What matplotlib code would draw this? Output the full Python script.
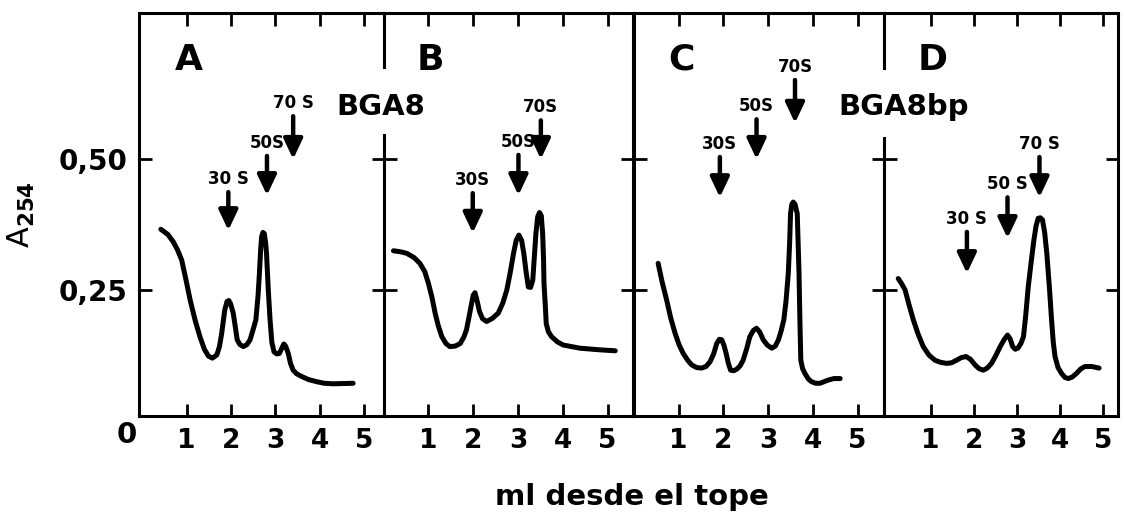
import matplotlib
matplotlib.use("Agg")
import matplotlib.pyplot as plt
from matplotlib.lines import Line2D

# ---- data (x in ml from top, y in A254) ----
a_x = [0.42, 0.58, 0.70, 0.80, 0.89, 0.98, 1.08, 1.19, 1.30, 1.40, 1.49, 1.58, 1.68, 1.74, 1.79,
       1.86, 1.91, 1.95, 1.99, 2.05, 2.10, 2.14, 2.20, 2.28, 2.36, 2.43, 2.51, 2.56, 2.61, 2.64,
       2.67, 2.69, 2.72, 2.75, 2.78, 2.80, 2.84, 2.88, 2.92, 2.97, 3.03, 3.09, 3.15, 3.19, 3.23,
       3.29, 3.34, 3.40, 3.48, 3.59, 3.75, 3.93, 4.10, 4.30, 4.75]
a_y = [0.366, 0.356, 0.342, 0.326, 0.307, 0.272, 0.231, 0.193, 0.161, 0.137, 0.124, 0.120, 0.126,
       0.142, 0.167, 0.212, 0.228, 0.230, 0.224, 0.206, 0.178, 0.155, 0.146, 0.142, 0.146, 0.155,
       0.178, 0.193, 0.240, 0.282, 0.330, 0.352, 0.360, 0.358, 0.340, 0.320, 0.250, 0.193, 0.150,
       0.132, 0.128, 0.129, 0.140, 0.147, 0.143, 0.129, 0.110, 0.097, 0.090, 0.085, 0.079, 0.075,
       0.072, 0.071, 0.072]

b_x = [0.22, 0.38, 0.52, 0.68, 0.81, 0.92, 1.00, 1.08, 1.15, 1.22, 1.30, 1.39, 1.48, 1.60, 1.71,
       1.79, 1.85, 1.91, 1.95, 2.00, 2.04, 2.08, 2.14, 2.21, 2.30, 2.43, 2.56, 2.66, 2.75, 2.83,
       2.90, 2.96, 3.02, 3.08, 3.13, 3.18, 3.23, 3.28, 3.33, 3.37, 3.40, 3.44, 3.48, 3.52, 3.55,
       3.57, 3.58, 3.61, 3.63, 3.68, 3.75, 3.88, 4.01, 4.38, 4.80, 5.17]
b_y = [0.325, 0.323, 0.320, 0.312, 0.301, 0.285, 0.263, 0.236, 0.206, 0.182, 0.161, 0.148, 0.142,
       0.143, 0.148, 0.160, 0.174, 0.200, 0.218, 0.240, 0.245, 0.232, 0.209, 0.195, 0.190, 0.196,
       0.206, 0.225, 0.250, 0.285, 0.320, 0.345, 0.355, 0.345, 0.320, 0.285, 0.256, 0.255, 0.269,
       0.320, 0.358, 0.390, 0.398, 0.392, 0.358, 0.310, 0.263, 0.220, 0.186, 0.170, 0.161, 0.151,
       0.145, 0.139, 0.136, 0.134]

c_x = [0.54, 0.63, 0.73, 0.82, 0.92, 1.01, 1.10, 1.20, 1.29, 1.40, 1.51, 1.61, 1.70, 1.78, 1.85,
       1.91, 1.96, 2.01, 2.06, 2.11, 2.16, 2.23, 2.30, 2.37, 2.44, 2.52, 2.59, 2.67, 2.74, 2.81,
       2.89, 2.98, 3.08, 3.16, 3.23, 3.29, 3.35, 3.40, 3.45, 3.48, 3.50, 3.53, 3.56, 3.60, 3.65,
       3.67, 3.69, 3.71, 3.73, 3.77, 3.82, 3.90, 3.97, 4.06, 4.16, 4.25, 4.34, 4.47, 4.61]
c_y = [0.301, 0.265, 0.231, 0.197, 0.167, 0.145, 0.129, 0.116, 0.107, 0.102, 0.101, 0.104, 0.113,
       0.128, 0.148, 0.156, 0.155, 0.145, 0.129, 0.110, 0.097, 0.096, 0.099, 0.105, 0.116, 0.138,
       0.161, 0.173, 0.177, 0.170, 0.155, 0.145, 0.139, 0.143, 0.155, 0.172, 0.193, 0.230, 0.282,
       0.340, 0.396, 0.414, 0.418, 0.414, 0.396, 0.340, 0.282, 0.190, 0.116, 0.100, 0.091, 0.080,
       0.075, 0.072, 0.072, 0.075, 0.078, 0.081, 0.081]

d_x = [0.25, 0.33, 0.41, 0.50, 0.60, 0.71, 0.83, 0.96, 1.10, 1.23, 1.37, 1.48, 1.60, 1.71, 1.82,
       1.92, 2.03, 2.12, 2.22, 2.31, 2.41, 2.51, 2.61, 2.70, 2.78, 2.84, 2.90, 2.96, 3.02, 3.09,
       3.15, 3.20, 3.26, 3.33, 3.39, 3.44, 3.49, 3.54, 3.59, 3.64, 3.69, 3.75, 3.80, 3.84, 3.88,
       3.95, 4.03, 4.11, 4.19, 4.28, 4.38, 4.47, 4.57, 4.73, 4.90]
d_y = [0.272, 0.262, 0.250, 0.222, 0.193, 0.166, 0.142, 0.126, 0.116, 0.112, 0.110, 0.111, 0.116,
       0.121, 0.123, 0.118, 0.107, 0.100, 0.097, 0.101, 0.110, 0.125, 0.142, 0.155, 0.164, 0.157,
       0.142, 0.137, 0.139, 0.148, 0.161, 0.200, 0.256, 0.305, 0.345, 0.372, 0.387, 0.388, 0.384,
       0.360, 0.320, 0.255, 0.193, 0.150, 0.123, 0.102, 0.091, 0.083, 0.081, 0.084, 0.091, 0.099,
       0.104, 0.104, 0.101]

# sedimentation markers: label, x, arrow tail y, arrow tip y
a_marks = [("30 S", 1.94, 0.437, 0.364), ("50S", 2.81, 0.506, 0.431), ("70 S", 3.40, 0.582, 0.500)]
b_marks = [("30S", 1.99, 0.435, 0.359), ("50S", 3.01, 0.508, 0.431), ("70S", 3.51, 0.574, 0.500)]
c_marks = [("30S", 1.92, 0.504, 0.427), ("50S", 2.74, 0.576, 0.500), ("70S", 3.60, 0.651, 0.569)]
d_marks = [("30 S", 1.84, 0.361, 0.282), ("50 S", 2.78, 0.427, 0.349), ("70 S", 3.52, 0.504, 0.427)]

panel_labels = ["A", "B", "C", "D"]
x_ticks = [1, 2, 3, 4, 5]
y_ticks = [0.25, 0.50]
y_tick_labels = ["0,25", "0,50"]

W, H = 1124, 515
# panel pixel extents and x limits (hand drawn axes -> slightly different scales)
panel_px = [(139, 384), (384, 633), (634, 884), (884, 1118)]
panel_xlim = [(-0.072, 5.446), (0.009, 5.567), (0.0, 5.59), (-0.079, 5.338)]
top_px, bot_px = 13, 416
ylim = (0.0095, 0.779)

plt.rcParams["font.family"] = ["DejaVu Sans"]
plt.rcParams["font.weight"] = "bold"

fig = plt.figure(figsize=(W / 100, H / 100), dpi=100)

curves = [(a_x, a_y), (b_x, b_y), (c_x, c_y), (d_x, d_y)]
marks = [a_marks, b_marks, c_marks, d_marks]

for i, ((px0, px1), xl, (cx, cy), mk, lab) in enumerate(
        zip(panel_px, panel_xlim, curves, marks, panel_labels)):
    ax = fig.add_axes([px0 / W, 1 - bot_px / H, (px1 - px0) / W, (bot_px - top_px) / H])
    ax.plot(cx, cy, color="black", lw=3.6, solid_joinstyle="round", solid_capstyle="round")
    ax.set_xlim(*xl)
    ax.set_ylim(*ylim)
    ax.set_xticks(x_ticks)
    ax.set_yticks(y_ticks)
    ax.set_yticklabels(y_tick_labels)
    ax.tick_params(direction="in", length=9, width=2.0, top=True, right=True,
                   labelsize=19, pad=9)
    ax.tick_params(axis="y", labelsize=20, pad=8, labelleft=(i == 0))
    for s in ax.spines.values():
        s.set_linewidth(2.2)

    for name, mx, tail, tip in mk:
        ax.annotate("", xy=(mx, tip), xytext=(mx, tail),
                    arrowprops=dict(arrowstyle="-|>,head_length=0.55,head_width=0.26",
                                    lw=3.2, color="black", mutation_scale=22,
                                    shrinkA=0, shrinkB=0))
        ax.annotate(name, xy=(mx, tail), xytext=(0, 3), textcoords="offset points",
                    ha="center", va="bottom", fontsize=12, fontweight="bold")

    ax.text(1.05, 0.69, lab, ha="center", va="center", fontsize=26, fontweight="heavy")

    if i == 0:
        ax.annotate("0", xy=(0, 0), xycoords="axes fraction", xytext=(-9, -14),
                    textcoords="offset points", ha="center", va="center", fontsize=21)
        ax.set_ylabel("A$_{254}$", fontsize=22, labelpad=16)

# breaks in the dividers under the strain names
for gx, gy0, gy1 in [(384, 72, 130), (884, 73, 133)]:
    fig.add_artist(Line2D([gx / W, gx / W], [1 - gy0 / H, 1 - gy1 / H], color="white",
                          lw=5, transform=fig.transFigure, zorder=2.5))
fig.text(381 / W, 1 - 107 / H, "BGA8", ha="center", va="center", fontsize=21,
         fontweight="bold", zorder=3)
fig.text(904 / W, 1 - 107 / H, "BGA8bp", ha="center", va="center", fontsize=21,
         fontweight="bold", zorder=3)

fig.text(632 / W, 1 - 497 / H, "ml desde el tope", ha="center", va="center", fontsize=21,
         fontweight="bold")

fig.savefig("out.png", dpi=100)
